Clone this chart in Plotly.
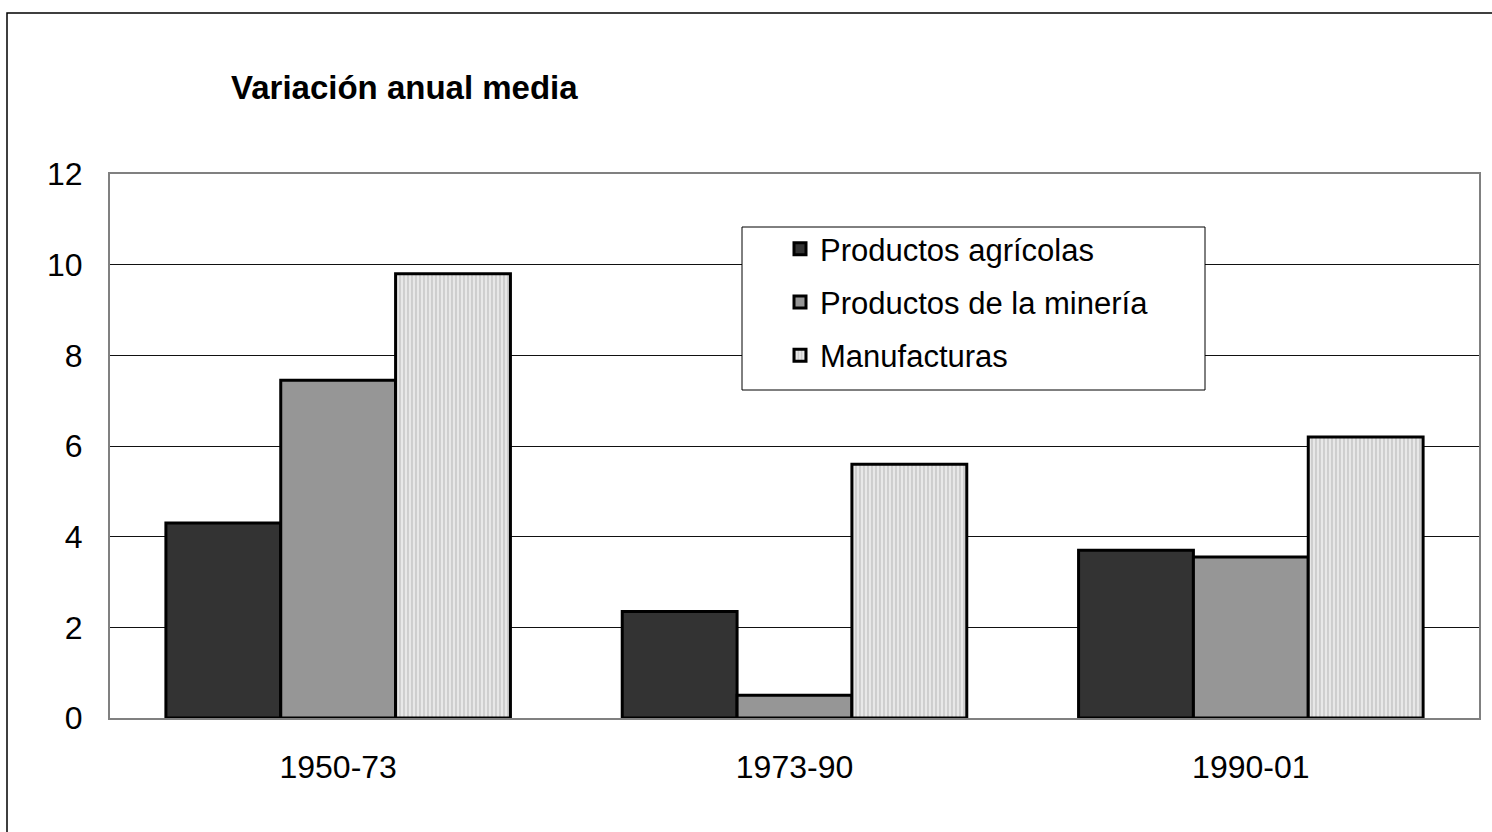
import plotly.graph_objects as go

categories = ["1950-73", "1973-90", "1990-01"]
agricolas = [4.3, 2.35, 3.7]
mineria = [7.45, 0.5, 3.55]
manufacturas = [9.8, 5.6, 6.2]
series_names = ["Productos agrícolas", "Productos de la minería", "Manufacturas"]
y_ticks = [0, 2, 4, 6, 8, 10, 12]

W, H = 1492, 832
L, R, T, B = 110, 13, 174, 114
pw, ph = W - L - R, H - T - B

def px_x(x):
    return (x - L) / pw

def px_y(y):
    return (H - B - y) / ph

fig = go.Figure()
fig.add_trace(go.Bar(x=categories, y=agricolas, name=series_names[0], legendgroup="a",
                     marker=dict(color="#333333", line=dict(color="black", width=3))))
fig.add_trace(go.Bar(x=categories, y=mineria, name=series_names[1], legendgroup="b",
                     marker=dict(color="#969696", line=dict(color="black", width=3))))
fig.add_trace(go.Bar(x=categories, y=manufacturas, name=series_names[2], legendgroup="c",
                     marker=dict(color="#e4e4e4", line=dict(color="black", width=3),
                                 pattern=dict(shape="|", size=4, solidity=0.35,
                                              fgcolor="#c4c4c4", bgcolor="#e8e8e8",
                                              fillmode="replace"))))

fig.update_layout(
    width=W, height=H,
    margin=dict(l=L, r=R, t=T, b=B),
    paper_bgcolor="white", plot_bgcolor="white",
    barmode="group", bargap=0.245, bargroupgap=0,
    font=dict(family="Liberation Sans, Arial", color="black", size=32),
    showlegend=True,
    legend=dict(x=px_x(780), y=px_y(222), xanchor="left", yanchor="top",
                bgcolor="rgba(0,0,0,0)", borderwidth=0,
                font=dict(size=31), tracegroupgap=10, traceorder="grouped"),
    annotations=[dict(text="<b>Variación anual media</b>", x=px_x(229), y=px_y(88),
                      xref="paper", yref="paper", xanchor="left", yanchor="middle",
                      showarrow=False, font=dict(size=33))],
    shapes=[dict(type="rect", xref="paper", yref="paper",
                 x0=px_x(7), x1=px_x(1500), y0=px_y(840), y1=px_y(13),
                 line=dict(color="black", width=1.5), fillcolor="rgba(0,0,0,0)", layer="below"),
            dict(type="rect", xref="paper", yref="paper",
                 x0=px_x(742), x1=px_x(1205), y0=px_y(390), y1=px_y(227),
                 line=dict(color="black", width=1), fillcolor="white", layer="above")],
)
fig.update_xaxes(type="category", showgrid=False, showline=True, linecolor="#808080", linewidth=2,
                 mirror=True, ticks="", tickfont=dict(size=32), ticklabelstandoff=20)
fig.update_yaxes(range=[0, 12], tickvals=y_ticks, showgrid=True, gridcolor="#111111", gridwidth=1,
                 showline=True, linecolor="#808080", linewidth=2, mirror=True, zeroline=False,
                 ticks="", tickfont=dict(size=32), ticklabelstandoff=19)

fig.write_html("out.html", config={"displayModeBar": False},
               post_script="document.body.style.margin='0';")
